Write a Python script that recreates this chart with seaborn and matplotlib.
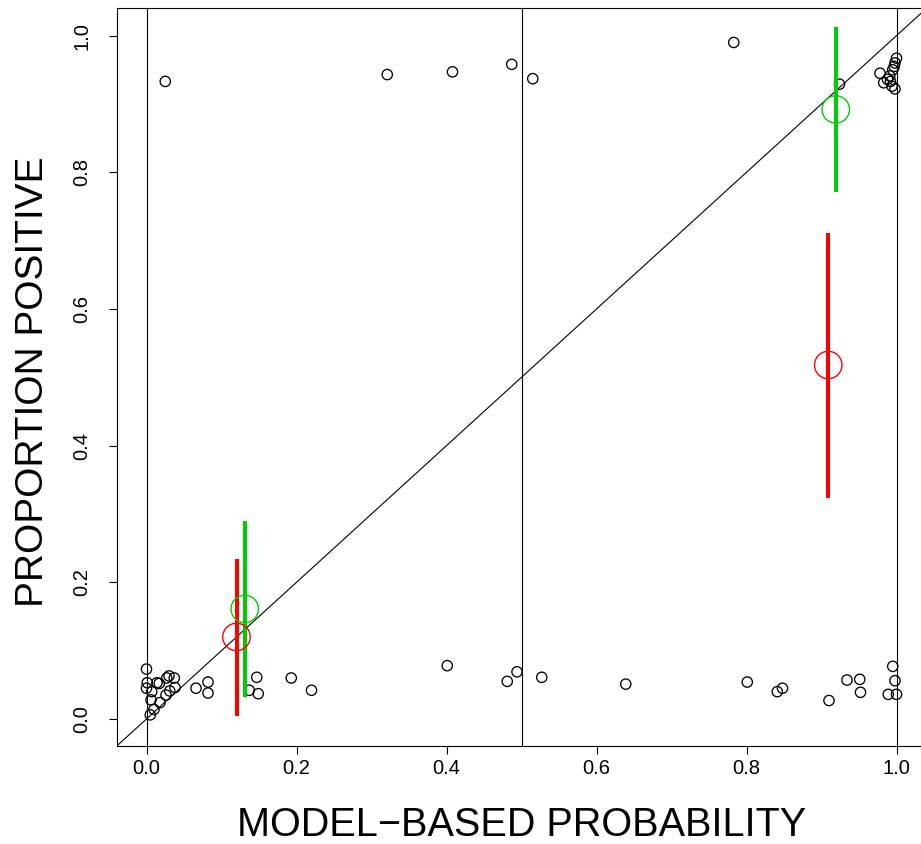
import matplotlib
matplotlib.use("Agg")
import matplotlib.pyplot as plt
import seaborn as sns
import pandas as pd

# ---- data ----
pt_x = [0.025, 0.321, 0.408, 0.487, 0.515, 0.783, 0.924,
        0.978, 0.983, 0.988, 0.991, 0.994, 0.995, 0.997, 0.998, 1.000, 0.998, 0.992,
        0.000, 0.001, 0.000, 0.007, 0.006, 0.018, 0.010, 0.005, 0.014, 0.017,
        0.027, 0.030, 0.037, 0.038, 0.031, 0.026, 0.066, 0.082, 0.082,
        0.147, 0.137, 0.149, 0.193, 0.220,
        0.401, 0.481, 0.494, 0.527, 0.639,
        0.801, 0.841, 0.848, 0.910, 0.934, 0.951, 0.952, 0.989, 0.995, 0.998, 1.000]
pt_y = [0.933, 0.943, 0.947, 0.958, 0.937, 0.990, 0.929,
        0.945, 0.931, 0.936, 0.941, 0.926, 0.950, 0.955, 0.960, 0.967, 0.922, 0.933,
        0.073, 0.053, 0.045, 0.040, 0.028, 0.024, 0.014, 0.006, 0.053, 0.052,
        0.060, 0.063, 0.060, 0.046, 0.041, 0.035, 0.045, 0.054, 0.038,
        0.061, 0.042, 0.037, 0.060, 0.042,
        0.078, 0.055, 0.069, 0.061, 0.051,
        0.054, 0.040, 0.045, 0.027, 0.057, 0.058, 0.039, 0.036, 0.077, 0.056, 0.036]

red_x = [0.120, 0.909]
red_y = [0.120, 0.518]
red_lo = [0.004, 0.324]
red_hi = [0.234, 0.711]

green_x = [0.131, 0.919]
green_y = [0.161, 0.892]
green_lo = [0.032, 0.771]
green_hi = [0.290, 1.012]

x_ticks = [0.0, 0.2, 0.4, 0.6, 0.8, 1.0]
y_ticks = [0.0, 0.2, 0.4, 0.6, 0.8, 1.0]
tick_labels = ["0.0", "0.2", "0.4", "0.6", "0.8", "1.0"]
x_label = "MODEL\u2212BASED PROBABILITY"
y_label = "PROPORTION POSITIVE"
ref_lines_x = [0.0, 0.5, 1.0]

RED = "#FF0000"
GREEN = "#00CD00"

sns.set_theme(style="white")
plt.rcParams["font.family"] = ["Liberation Sans", "DejaVu Sans"]
plt.rcParams["text.color"] = "black"
plt.rcParams["xtick.color"] = "black"
plt.rcParams["ytick.color"] = "black"

fig = plt.figure(figsize=(9.21, 8.44), dpi=100)
ax = fig.add_axes([116.5 / 921, (844 - 746.3) / 844, 810 / 921, 738 / 844])

# reference lines
for xv in ref_lines_x:
    ax.axvline(xv, color="black", lw=0.8, zorder=1)
ax.axline((0, 0), slope=1, color="black", lw=0.8, zorder=1)

# scatter points
pts = pd.DataFrame({"x": pt_x, "y": pt_y})
sns.scatterplot(data=pts, x="x", y="y", ax=ax, marker="o", s=55,
                facecolor="none", edgecolor="black", linewidth=0.95, zorder=3)

# interval lines
ax.vlines(red_x, red_lo, red_hi, color=RED, lw=2.9, zorder=4)
ax.vlines(green_x, green_lo, green_hi, color=GREEN, lw=2.9, zorder=4)

summ = pd.DataFrame({"x": red_x + green_x, "y": red_y + green_y,
                     "grp": ["red"] * len(red_x) + ["green"] * len(green_x)})
sns.scatterplot(data=summ, x="x", y="y", hue="grp", palette={"red": RED, "green": GREEN},
                ax=ax, marker="o", s=390, legend=False, zorder=5)
coll = ax.collections[-1]
coll.set_facecolor("none")
coll.set_edgecolor([RED, RED, GREEN, GREEN])
coll.set_linewidth(1.0)

ax.set_xlim(-0.04, 1.04)
ax.set_ylim(-0.04, 1.04)
ax.set_xticks(x_ticks)
ax.set_yticks(y_ticks)
ax.set_xticklabels(tick_labels, fontsize=14.5, color="black")
ax.set_yticklabels(tick_labels, fontsize=14.5, rotation=90, va="center", color="black")
ax.tick_params(axis="both", direction="out", length=6, width=0.8, colors="black",
               bottom=True, left=True)
ax.tick_params(axis="x", pad=3.5)
ax.tick_params(axis="y", pad=12)

for sp in ax.spines.values():
    sp.set_visible(True)
    sp.set_color("black")
    sp.set_linewidth(0.8)

ax.set_xlabel("")
ax.set_ylabel("")
fig.text(521.5 / 921, 1 - 836 / 844, x_label, fontsize=28.5, ha="center", va="baseline",
         color="black")
fig.text(43.5 / 921, 1 - 382 / 844, y_label, fontsize=28, ha="center", va="baseline",
         rotation=90, rotation_mode="anchor", color="black")

fig.savefig("out.png", dpi=100, facecolor="white")
